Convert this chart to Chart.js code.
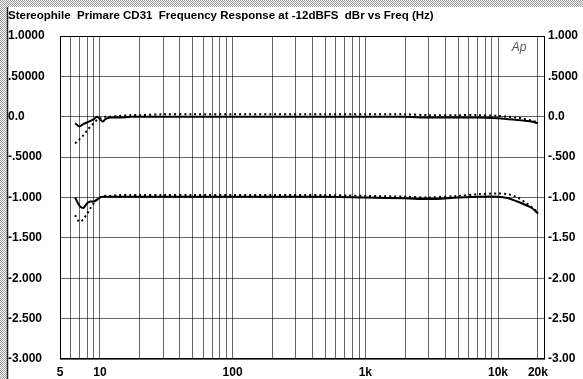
<!DOCTYPE html>
<html>
<head>
<meta charset="utf-8">
<script src="https://cdn.jsdelivr.net/npm/chart.js@4/dist/chart.umd.min.js"></script>
<style>
  html, body { margin: 0; padding: 0; background: #fff; }
  #wrap { width: 583px; height: 379px; }
</style>
</head>
<body>
<div id="wrap"><canvas id="frChart" width="583" height="379"></canvas></div>
<script>
// Frequency points (Hz)
const freqs = [6.5, 7, 7.5, 8, 8.5, 9, 9.5, 10, 10.5, 11, 12, 14, 17, 20, 30, 50, 100, 200, 500,
    1000, 2000, 3000, 5000, 7000, 10000, 12000, 14000, 16000, 18000, 20000];

// Upper pair (0 dBr)
const upperSolid = [-0.08, -0.12, -0.09, -0.07, -0.05, -0.03, 0.0, -0.03, -0.06, -0.03, -0.01, -0.01, 0.0, 0.0, 0.0, 0.0, 0.0, 0.0, 0.0,
    0.0, 0.0, -0.01, -0.01, -0.01, -0.02, -0.03, -0.04, -0.05, -0.06, -0.08];
const upperDotted = [-0.33, -0.28, -0.23, -0.17, -0.12, -0.08, -0.04, -0.02, -0.01, 0.0, 0.0, 0.01, 0.02, 0.02, 0.03, 0.03, 0.03, 0.03, 0.03,
    0.03, 0.03, 0.02, 0.02, 0.02, 0.01, 0.0, -0.01, -0.03, -0.05, -0.07];

// Lower pair (offset by -1 dB)
const lowerSolid = [-1.0, -1.1, -1.13, -1.07, -1.05, -1.05, -1.03, -1.0, -0.99, -0.99, -0.99, -0.99, -0.99, -0.99, -0.99, -0.99, -0.99, -0.99, -0.99,
    -1.0, -1.01, -1.02, -1.0, -0.99, -0.99, -1.01, -1.05, -1.09, -1.13, -1.2];
const lowerDotted = [-1.22, -1.3, -1.27, -1.2, -1.13, -1.07, -1.02, -1.0, -0.98, -0.98, -0.98, -0.97, -0.97, -0.97, -0.97, -0.97, -0.97, -0.97, -0.97,
    -0.98, -0.99, -1.0, -0.98, -0.96, -0.95, -0.96, -1.0, -1.06, -1.12, -1.19];

// Axis tick labels
const gridFreqs = [5, 6, 7, 8, 9, 10, 20, 30, 40, 50, 60, 70, 80, 90, 100, 200, 300, 400, 500, 600, 700, 800, 900,
    1000, 2000, 3000, 4000, 5000, 6000, 7000, 8000, 9000, 10000, 20000];
const xLabelVals = [5, 10, 100, 1000, 10000, 20000];
const xLabelText = ['5', '10', '100', '1k', '10k', '20k'];
const yVals = [1, 0.5, 0, -0.5, -1, -1.5, -2, -2.5, -3];
const leftLabels = ['1.0000', '.50000', '0.0', '-.5000', '-1.000', '-1.500', '-2.000', '-2.500', '-3.000'];
const rightLabels = ['1.000', '.5000', '0.0', '-.500', '-1.00', '-1.50', '-2.00', '-2.50', '-3.00'];

const FONT = '"Liberation Sans", Arial, sans-serif';

function pts(ys) {
    return freqs.map((f, i) => ({ x: f, y: ys[i] }));
}

function yLabel(list) {
    return (v) => {
        const i = yVals.findIndex(t => Math.abs(t - v) < 1e-6);
        return i >= 0 ? list[i] : '';
    };
}

/**
 * Halftone frame, white panel, "Ap" mark
 */
const framePlugin = {
    id: 'frame',
    beforeDraw(chart) {
        const ctx = chart.ctx;
        const pc = document.createElement('canvas');
        pc.width = 2; pc.height = 2;
        const p = pc.getContext('2d');
        p.fillStyle = '#ffffff'; p.fillRect(0, 0, 2, 2);
        p.fillStyle = '#9a9a9a'; p.fillRect(0, 0, 1, 1); p.fillRect(1, 1, 1, 1);
        ctx.save();
        ctx.fillStyle = ctx.createPattern(pc, 'repeat');
        ctx.fillRect(0, 0, chart.width, chart.height);
        ctx.fillStyle = '#ffffff';
        ctx.fillRect(8, 7, chart.width - 8, chart.height - 7);
        ctx.strokeStyle = '#222';
        ctx.lineWidth = 1.5;
        ctx.beginPath();
        ctx.moveTo(7.5, 7); ctx.lineTo(7.5, 379);
        ctx.stroke();
        ctx.restore();
    },
    afterDatasetsDraw(chart) {
        const { ctx, chartArea } = chart;
        ctx.save();
        ctx.strokeStyle = '#000';
        ctx.lineWidth = 1;
        ctx.strokeRect(chartArea.left + 0.5, chartArea.top + 0.5, chartArea.width - 1, chartArea.height - 1);
        ctx.fillStyle = '#555';
        ctx.font = 'italic 12px ' + FONT;
        ctx.textAlign = 'center';
        ctx.textBaseline = 'middle';
        ctx.fillText('Ap', 519, 48);
        ctx.restore();
    }
};

const gridStyle = {
    color: 'rgba(0,0,0,0.6)',
    lineWidth: 1,
    drawTicks: false
};

const tickFont = { family: FONT, size: 12, weight: 'bold' };

new Chart(document.getElementById('frChart'), {
    type: 'line',
    data: {
        datasets: [
            { data: pts(upperSolid), borderColor: '#000', borderWidth: 2, pointRadius: 0, tension: 0.3 },
            { data: pts(upperDotted), borderColor: '#000', borderWidth: 2, borderDash: [2, 3], pointRadius: 0, tension: 0.3 },
            { data: pts(lowerSolid), borderColor: '#000', borderWidth: 2, pointRadius: 0, tension: 0.3 },
            { data: pts(lowerDotted), borderColor: '#000', borderWidth: 2, borderDash: [2, 3], pointRadius: 0, tension: 0.3 }
        ]
    },
    options: {
        responsive: false,
        animation: false,
        layout: { padding: { top: 0, left: 8, right: 0, bottom: 0 } },
        plugins: {
            legend: { display: false },
            tooltip: { enabled: false },
            title: {
                display: true,
                text: 'Stereophile  Primare CD31  Frequency Response at -12dBFS  dBr vs Freq (Hz)',
                align: 'start',
                color: '#000',
                font: { family: FONT, size: 11.5, weight: 'bold' },
                padding: { top: 8.5, bottom: 13.7 }
            }
        },
        scales: {
            x: {
                type: 'logarithmic',
                min: 5,
                max: 22600,
                grid: gridStyle,
                border: { display: false },
                afterBuildTicks: (scale) => {
                    scale.ticks = gridFreqs.map(v => ({ value: v }));
                },
                afterFit: (scale) => { scale.height = 20; },
                ticks: {
                    autoSkip: false,
                    maxRotation: 0,
                    padding: 6.5,
                    color: '#000',
                    font: tickFont,
                    callback: (v) => {
                        const i = xLabelVals.indexOf(v);
                        return i >= 0 ? xLabelText[i] : '';
                    }
                }
            },
            y: {
                position: 'left',
                min: -3,
                max: 1,
                grid: gridStyle,
                border: { display: false },
                afterFit: (scale) => { scale.width = 52; },
                ticks: {
                    stepSize: 0.5,
                    crossAlign: 'far',
                    padding: 4,
                    color: '#000',
                    font: tickFont,
                    callback: yLabel(leftLabels)
                }
            },
            y2: {
                position: 'right',
                min: -3,
                max: 1,
                grid: { display: false, drawTicks: false },
                border: { display: false },
                afterFit: (scale) => { scale.width = 38; },
                ticks: {
                    stepSize: 0.5,
                    crossAlign: 'near',
                    padding: 3,
                    color: '#000',
                    font: tickFont,
                    callback: yLabel(rightLabels)
                }
            }
        }
    },
    plugins: [framePlugin]
});
</script>
</body>
</html>
